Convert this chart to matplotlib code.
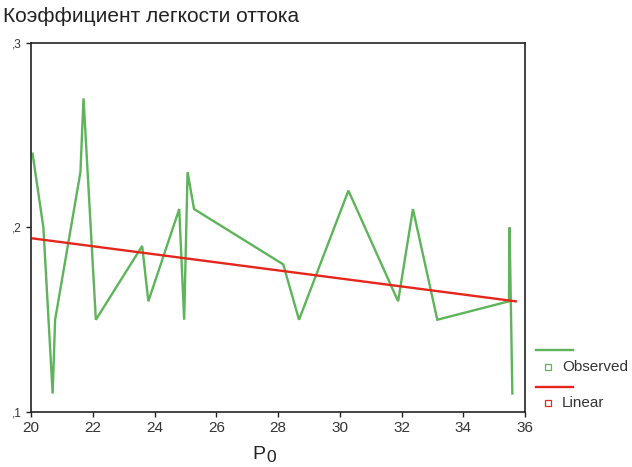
import matplotlib
matplotlib.use("Agg")
import matplotlib.pyplot as plt
from matplotlib.lines import Line2D
import numpy as np

plt.rcParams['font.family'] = ['Liberation Sans', 'DejaVu Sans']

# Observed values of the outflow-ease coefficient against P0
p0 = [20.05, 20.4, 20.7, 20.78, 21.6, 21.7, 22.1, 23.6, 23.8, 24.8, 24.96,
      25.07, 25.28, 28.17, 28.68, 30.28, 31.89, 32.37, 33.16, 35.48, 35.5, 35.59]
coef = [0.24, 0.20, 0.11, 0.15, 0.23, 0.27, 0.15, 0.19, 0.16, 0.21, 0.15,
        0.23, 0.21, 0.18, 0.15, 0.22, 0.16, 0.21, 0.15, 0.16, 0.20, 0.11]

# Linear fit coefficients
lin_intercept = 0.2378
lin_slope = -0.00218

x_ticks = [20, 22, 24, 26, 28, 30, 32, 34, 36]
y_ticks = [0.1, 0.2, 0.3]
y_tick_labels = [',1', ',2', ',3']

green = '#5DB45A'
red = '#E5261C'
ink = '#222222'

fig = plt.figure(figsize=(6.32, 4.67), dpi=100)
ax = fig.add_axes([0.0491, 0.1178, 0.7816, 0.7901])

ax.plot(p0, coef, color=green, lw=1.7, solid_joinstyle='miter')
xfit = np.array([min(p0), 35.7])
ax.plot(xfit, lin_intercept + lin_slope * xfit, color=red, lw=1.7)

ax.set_xlim(20, 36)
ax.set_ylim(0.1, 0.3)
ax.set_xticks(x_ticks)
ax.set_xticklabels([str(v) for v in x_ticks])
ax.set_yticks(y_ticks)
ax.set_yticklabels(y_tick_labels)
ax.tick_params(direction='out', length=3.5, width=1, colors=ink,
               labelcolor='#333333')
ax.tick_params(axis='x', labelsize=11, pad=3)
ax.tick_params(axis='y', labelsize=8.5, pad=3)
for s in ax.spines.values():
    s.set_linewidth(1.2)
    s.set_color(ink)

# Axis title P with subscript 0
fig.text(252 / 632, 1 - 459 / 467, 'P', fontsize=14, color=ink,
         ha='left', va='baseline')
fig.text(266.5 / 632, 1 - 462.5 / 467, '0', fontsize=12.5, color=ink,
         ha='left', va='baseline')

fig.text(0.005, 0.965, 'Коэффициент легкости оттока', fontsize=15,
         color=ink, ha='left', va='center')

# Legend drawn beside the plot area
def legend_entry(y_line, y_text, color, label):
    fig.add_artist(Line2D([536 / 632, 573 / 632], [y_line, y_line],
                          color=color, lw=1.7, transform=fig.transFigure))
    fig.add_artist(Line2D([548 / 632], [y_text], marker='s', markersize=4.2,
                          markerfacecolor='white', markeredgecolor=color,
                          markeredgewidth=0.9, linestyle='none',
                          transform=fig.transFigure))
    fig.text(562 / 632, y_text, label, fontsize=11, color='#333333',
             ha='left', va='center')

legend_entry(1 - 350 / 467, 1 - 367 / 467, green, 'Observed')
legend_entry(1 - 387 / 467, 1 - 403 / 467, red, 'Linear')

fig.savefig('out.png', dpi=100)
